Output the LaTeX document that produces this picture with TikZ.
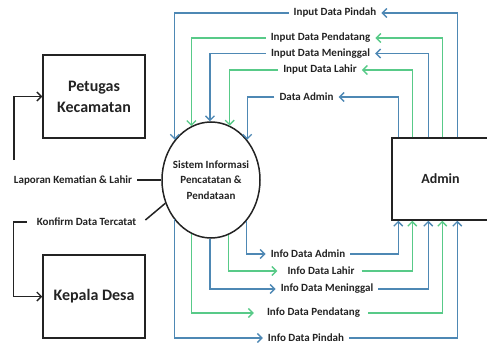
\documentclass[tikz,border=0pt]{standalone}
\usepackage{fontspec}
\setmainfont{Carlito}
\usetikzlibrary{arrows.meta,shapes.geometric}
\definecolor{fblue}{RGB}{78,136,180}
\definecolor{fgreen}{RGB}{88,202,136}
\definecolor{ink}{RGB}{35,35,35}
\begin{document}
\begin{tikzpicture}[x=1pt,y=-1pt,
  bl/.style={draw=fblue,line width=1.3pt},
  gr/.style={draw=fgreen,line width=1.3pt},
  blk/.style={draw=ink,line width=1.5pt},
  flow/.style={-{Straight Barb[length=4.5pt,width=9pt,line width=1.3pt]}},
  lbl/.style={font=\bfseries\fontsize{11}{13}\selectfont,text=ink,inner xsep=5pt,inner ysep=1pt},
  entity/.style={draw=ink,line width=1.5pt,minimum width=102pt,minimum height=83pt,align=center,font=\bfseries\fontsize{16}{21}\selectfont,text=ink,inner sep=0pt},
  procell/.style={draw=ink,line width=1.5pt,ellipse,minimum width=98pt,minimum height=116pt,inner sep=0pt}]
\useasboundingbox (0,0) rectangle (487,345);

% entities
\node[entity] (pk) at (94,96.5) {Petugas\\Kecamatan};
\node[entity] (kd) at (94,296.5) {Kepala Desa};
\node[entity,minimum width=97pt,minimum height=82pt,font=\bfseries\fontsize{14}{16}\selectfont] (admin) at (440.5,179) {Admin};

% process
\node[procell] (sys) at (211,180) {};
\node[font=\bfseries\fontsize{11}{15.5}\selectfont,text=ink,align=center] (systxt) at (sys.center) {Sistem Informasi\\Pencatatan \&\\Pendataan};

% top labels
\node[lbl] (ipindah) at (335,13) {Input Data Pindah};
\node[lbl] (ipendatang) at (320.5,38) {Input Data Pendatang};
\node[lbl] (imeninggal) at (320.5,53.5) {Input Data Meninggal};
\node[lbl] (ilahir) at (320,70) {Input Data Lahir};
\node[lbl] (dadmin) at (306.5,97) {Data Admin};

% bottom labels
\node[lbl] (oadmin) at (308,254) {Info Data Admin};
\node[lbl] (olahir) at (321,271) {Info Data Lahir};
\node[lbl] (omeninggal) at (327,289) {Info Data Meninggal};
\node[lbl] (opendatang) at (313.5,313) {Info Data Pendatang};
\node[lbl] (opindah) at (306,338) {Info Data Pindah};

% left labels
\node[lbl] (lap) at (73,180) {Laporan Kematian \& Lahir};
\node[lbl] (konf) at (86.5,222) {Konfirm Data Tercatat};
\coordinate (lapup) at (14,160);

% admin -> input labels
\draw[bl,flow] ([xshift=66pt]admin.north west) |- (ipindah.east);
\draw[gr,flow] ([xshift=51pt]admin.north west) |- (ipendatang.east);
\draw[bl,flow] ([xshift=37pt]admin.north west) |- (imeninggal.east);
\draw[gr,flow] ([xshift=21pt]admin.north west) |- (ilahir.east);
\draw[bl,flow] ([xshift=7pt]admin.north west) |- (dadmin.east);

% input labels -> system
\draw[bl,flow] (ipindah.west) -| (sys.132.5);
\draw[gr,flow] (ipendatang.west) -| (sys.110);
\draw[bl,flow] (imeninggal.west) -| (sys.91);
\draw[gr,flow] (ilahir.west) -| (sys.71.5);
\draw[bl,flow] (dadmin.west) -| (sys.48.4);

% system -> info labels
\draw[bl,flow] (sys.227.5) |- (opindah.west);
\draw[gr,flow] (sys.250) |- ([xshift=-8pt]opendatang.west);
\draw[bl,flow] (sys.269) |- (omeninggal.west);
\draw[gr,flow] (sys.288.5) |- ([xshift=-5pt]olahir.west);
\draw[bl,flow] (sys.311.6) |- (oadmin.west);

% info labels -> admin
\draw[bl,flow] (opindah.east) -| ([xshift=66pt]admin.south west);
\draw[gr,flow] ([xshift=3pt]opendatang.east) -| ([xshift=51pt]admin.south west);
\draw[bl,flow] (omeninggal.east) -| ([xshift=37pt]admin.south west);
\draw[gr,flow] ([xshift=2pt]olahir.east) -| ([xshift=21pt]admin.south west);
\draw[bl,flow] (oadmin.east) -| ([xshift=7pt]admin.south west);

% left flows
\draw[blk] (lap.east) -- (sys.west);
\draw[blk,flow] (lapup) |- (pk.west);
\draw[blk] (sys.207) -- ([xshift=4pt,yshift=2pt]konf.east);
\draw[blk,flow] ([xshift=-5pt]konf.west) -| ([xshift=-29pt]kd.west) -- (kd.west);
\end{tikzpicture}
\end{document}
